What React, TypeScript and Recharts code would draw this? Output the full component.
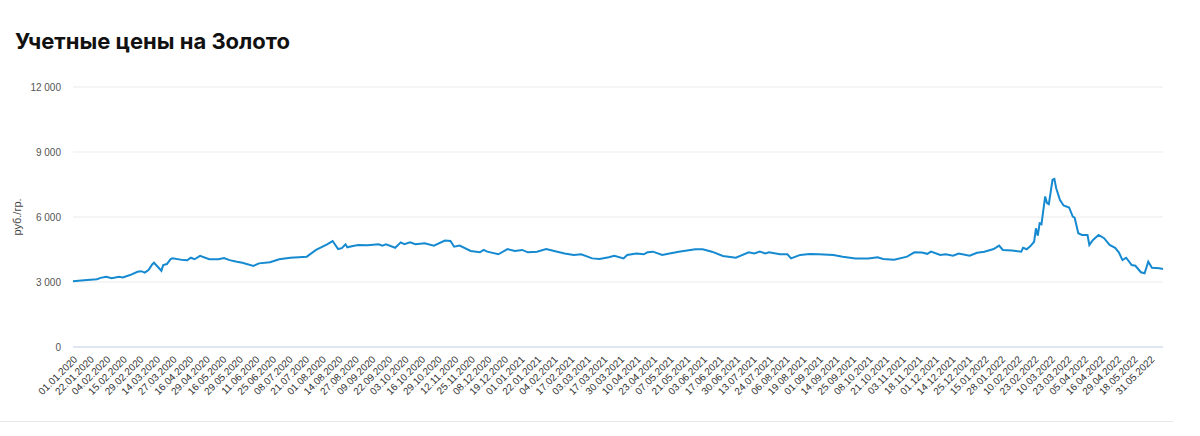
import { CartesianGrid, Line, LineChart, XAxis, YAxis } from 'recharts'

// trading-day labels shown on the x axis (one every 9 trading days)
const tickDates = [
  '01.01.2020', '22.01.2020', '04.02.2020', '15.02.2020', '29.02.2020', '14.03.2020', '27.03.2020',
  '16.04.2020', '29.04.2020', '16.05.2020', '29.05.2020', '11.06.2020', '25.06.2020', '08.07.2020',
  '21.07.2020', '01.08.2020', '14.08.2020', '27.08.2020', '09.09.2020', '22.09.2020', '03.10.2020',
  '16.10.2020', '29.10.2020', '12.11.2020', '25.11.2020', '08.12.2020', '19.12.2020', '01.01.2021',
  '22.01.2021', '04.02.2021', '17.02.2021', '03.03.2021', '17.03.2021', '30.03.2021', '10.04.2021',
  '23.04.2021', '07.05.2021', '21.05.2021', '03.06.2021', '17.06.2021', '30.06.2021', '13.07.2021',
  '24.07.2021', '06.08.2021', '19.08.2021', '01.09.2021', '14.09.2021', '25.09.2021', '08.10.2021',
  '21.10.2021', '03.11.2021', '18.11.2021', '01.12.2021', '14.12.2021', '25.12.2021', '15.01.2022',
  '28.01.2022', '10.02.2022', '23.02.2022', '10.03.2022', '23.03.2022', '05.04.2022', '16.04.2022',
  '29.04.2022', '18.05.2022', '31.05.2022',
]
const tickStep = 9
const lastDay = 592

// trading day number of each sampled price
const sampleDay = [
  0, 6, 13, 15, 18, 21, 25, 27, 31, 35, 37, 39, 41, 43, 44, 48, 49, 51, 53, 54, 60, 62, 64, 66, 69,
  74, 79, 82, 85, 89, 92, 98, 101, 107, 112, 118, 127, 132, 138, 141, 144, 146, 148, 149, 152, 155,
  160, 166, 168, 170, 175, 178, 180, 183, 186, 191, 196, 202, 205, 207, 210, 216, 221, 223, 225, 231,
  236, 240, 244, 247, 252, 257, 263, 267, 272, 276, 282, 286, 291, 294, 299, 301, 306, 310, 312, 315,
  320, 324, 329, 338, 342, 347, 353, 360, 367, 370, 373, 376, 378, 384, 388, 390, 395, 400, 405, 413,
  418, 425, 432, 437, 440, 446, 453, 457, 461, 464, 466, 471, 474, 478, 481, 487, 491, 495, 500, 503,
  505, 510, 515, 516, 518, 520, 522, 523, 524, 525, 526, 528, 529, 530, 532, 533, 534, 536, 538, 541,
  543, 544, 546, 548, 551, 552, 554, 557, 560, 563, 566, 568, 570, 572, 575, 577, 580, 582, 584, 586,
  590, 592,
]

// учетная цена, руб./гр.
const goldPrice = [
  3040, 3080, 3130, 3190, 3240, 3170, 3240, 3210, 3320, 3470, 3500, 3430, 3550, 3810, 3890, 3520, 3780,
  3830, 4060, 4090, 4010, 4000, 4120, 4050, 4210, 4050, 4050, 4110, 4010, 3935, 3890, 3740, 3860, 3910,
  4050, 4120, 4170, 4480, 4740, 4890, 4520, 4560, 4740, 4600, 4660, 4710, 4700, 4740, 4680, 4740, 4580,
  4830, 4750, 4830, 4740, 4790, 4680, 4910, 4890, 4630, 4680, 4430, 4370, 4480, 4400, 4280, 4520, 4430,
  4480, 4370, 4400, 4520, 4400, 4320, 4250, 4280, 4090, 4060, 4140, 4210, 4090, 4250, 4320, 4280, 4370,
  4400, 4250, 4320, 4400, 4510, 4510, 4400, 4200, 4120, 4370, 4320, 4400, 4320, 4370, 4280, 4280, 4090,
  4250, 4290, 4280, 4250, 4170, 4090, 4090, 4140, 4060, 4030, 4170, 4370, 4360, 4300, 4400, 4250, 4280,
  4210, 4310, 4210, 4350, 4400, 4520, 4680, 4480, 4450, 4400, 4580, 4510, 4660, 4860, 5480, 5140, 5710,
  5670, 6950, 6640, 6590, 7720, 7760, 7330, 6790, 6530, 6440, 6020, 5970, 5250, 5170, 5170, 4710, 4940,
  5170, 5020, 4710, 4580, 4370, 4010, 4120, 3780, 3750, 3450, 3400, 3940, 3660, 3630, 3600,
]

const yTicks = [0, 3000, 6000, 9000, 12000]

const chartData = sampleDay.map((day, i) => ({ day, price: goldPrice[i] }))
const xTicks = tickDates.map((_, i) => i * tickStep)

const formatThousands = (v: number) => (v === 0 ? '0' : `${Math.floor(v / 1000)} ${String(v % 1000).padStart(3, '0')}`)

export default function App() {
  return (
    <div
      style={{
        position: 'absolute',
        left: 0,
        top: 0,
        width: 1200,
        height: 436,
        background: '#fff',
        fontFamily: '"Liberation Sans", Arial, sans-serif',
      }}
    >
      <div
        style={{
          position: 'absolute',
          left: 15,
          top: 27,
          fontFamily: 'Inter, "Noto Sans", sans-serif',
          fontWeight: 700,
          fontSize: 22,
          lineHeight: '28px',
          color: '#111',
          whiteSpace: 'nowrap',
        }}
      >
        Учетные цены на Золото
      </div>

      <div style={{ position: 'absolute', left: 0, top: 70 }}>
        <LineChart width={1180} height={342} data={chartData} margin={{ top: 17, right: 17, left: 18, bottom: 5 }}>
          <CartesianGrid vertical={false} stroke="#ebebeb" />
          <XAxis
            dataKey="day"
            type="number"
            domain={[0, lastDay]}
            ticks={xTicks}
            interval={0}
            tickFormatter={(v: number) => tickDates[v / tickStep]}
            angle={-45}
            textAnchor="end"
            height={60}
            tickLine={false}
            axisLine={{ stroke: '#dfe5f1', strokeWidth: 2 }}
            tick={{ fill: '#333', fontSize: 10 }}
          />
          <YAxis
            domain={[0, 12000]}
            ticks={yTicks}
            width={55}
            tickLine={false}
            axisLine={false}
            tickMargin={6}
            tickFormatter={formatThousands}
            tick={{ fill: '#555', fontSize: 10 }}
            label={{
              value: 'руб./гр.',
              angle: -90,
              position: 'insideLeft',
              offset: -1,
              style: { textAnchor: 'middle', fill: '#444', fontSize: 11 },
            }}
          />
          <Line
            type="linear"
            dataKey="price"
            stroke="#168ad0"
            strokeWidth={2}
            dot={false}
            isAnimationActive={false}
          />
        </LineChart>
      </div>

      <div style={{ position: 'absolute', left: 0, top: 421, width: 1173, height: 1, background: '#e8e8e8' }} />
    </div>
  )
}
